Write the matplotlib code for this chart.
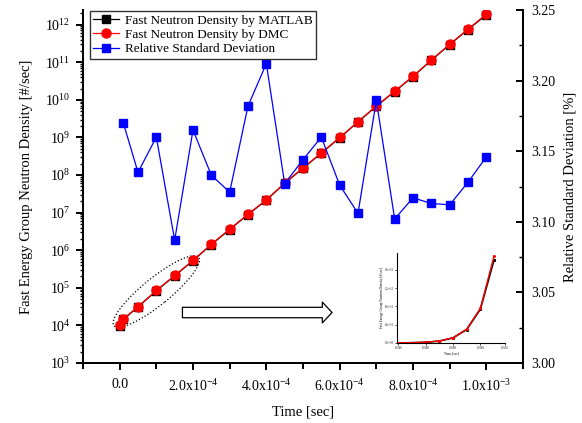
#!/usr/bin/env python3
"""Fast neutron density (MATLAB vs DMC) with relative standard deviation on a twin axis."""
import matplotlib
matplotlib.use("Agg")
import matplotlib.pyplot as plt
import matplotlib.ticker as mticker
from matplotlib.patches import Ellipse, FancyArrowPatch
from matplotlib.transforms import ScaledTranslation
import numpy as np

plt.rcParams["font.family"] = ["Liberation Serif", "DejaVu Serif"]
plt.rcParams["mathtext.fontset"] = "custom"
plt.rcParams["mathtext.rm"] = "Liberation Serif"
plt.rcParams["mathtext.it"] = "Liberation Serif:italic"
plt.rcParams["mathtext.default"] = "regular"

# time points [sec]
time = [0.0, 1e-5, 5e-5, 1e-4, 1.5e-4, 2e-4, 2.5e-4, 3e-4, 3.5e-4, 4e-4, 4.5e-4,
        5e-4, 5.5e-4, 6e-4, 6.5e-4, 7e-4, 7.5e-4, 8e-4, 8.5e-4, 9e-4, 9.5e-4, 1e-3]
# log10 of density
log_dmc = [4.00, 4.17, 4.50, 4.93, 5.33, 5.73, 6.16, 6.56, 6.96, 7.34, 7.79,
           8.19, 8.59, 9.00, 9.42, 9.84, 10.23, 10.63, 11.06, 11.48, 11.88, 12.28]
log_matlab = [3.98, 4.16, 4.49, 4.92, 5.32, 5.72, 6.15, 6.55, 6.95, 7.33, 7.78,
              8.18, 8.58, 8.99, 9.41, 9.83, 10.22, 10.62, 11.05, 11.47, 11.87, 12.26]
dmc = [10 ** v for v in log_dmc]
matlab = [10 ** v for v in log_matlab]

# relative standard deviation [%] (starts at 1e-5)
rsd_time = time[1:]
rsd = [3.170, 3.135, 3.160, 3.087, 3.165, 3.133, 3.121, 3.182, 3.212, 3.127,
       3.144, 3.160, 3.126, 3.106, 3.186, 3.102, 3.117, 3.113, 3.112, 3.128, 3.146]

x_ticks = [0.0, 2e-4, 4e-4, 6e-4, 8e-4, 1e-3]
x_labels = ["0.0", r"$2.0x10^{-4}$", r"$4.0x10^{-4}$", r"$6.0x10^{-4}$",
            r"$8.0x10^{-4}$", r"$1.0x10^{-3}$"]

LW_SPINE = 1.4

fig = plt.figure(figsize=(5.82, 4.23), dpi=100)
ax = fig.add_axes([83 / 582, 1 - 363 / 423, 440 / 582, 353 / 423])
ax2 = ax.twinx()

l1, = ax.plot(time, matlab, color="black", marker="s", markersize=5.5, linewidth=0.9,
              label="Fast Neutron Density by MATLAB", zorder=3)
l2, = ax.plot(time, dmc, color="red", marker="o", markersize=6.5, linewidth=0.9,
              label="Fast Neutron Density by DMC", zorder=4)
l3, = ax2.plot(rsd_time, rsd, color="blue", marker="s", markersize=5.5, linewidth=0.9,
               label="Relative Standard Deviation", zorder=3)

ax.set_yscale("log")
ax.set_ylim(1e3, 10 ** 12.39)
ax.set_xlim(-1e-4, 1.1e-3)
ax2.set_ylim(3.0, 3.25)

ax.set_xticks(x_ticks)
ax.set_xticklabels(x_labels)
ax.xaxis.set_minor_locator(mticker.MultipleLocator(1e-4))
ax.yaxis.set_major_locator(mticker.LogLocator(base=10, numticks=15))
ax.yaxis.set_minor_locator(mticker.LogLocator(base=10, subs=np.arange(2, 10), numticks=15))
ax.yaxis.set_minor_formatter(mticker.NullFormatter())

ax2.yaxis.set_major_locator(mticker.MultipleLocator(0.05))
ax2.yaxis.set_minor_locator(mticker.MultipleLocator(0.025))
ax2.yaxis.set_major_formatter(mticker.FormatStrFormatter("%.2f"))

for a in (ax, ax2):
    a.spines["top"].set_visible(False)
    for s in ("left", "right", "bottom"):
        a.spines[s].set_linewidth(LW_SPINE)

ax.tick_params(axis="both", which="major", direction="out", length=5, width=LW_SPINE,
               labelsize=10, pad=4)
ax.tick_params(axis="both", which="minor", direction="out", length=2.5, width=1.0)
ax.tick_params(axis="x", which="minor", length=4, width=LW_SPINE)
ax.tick_params(axis="x", which="major", pad=6)
ax2.tick_params(axis="y", which="major", direction="in", length=5, width=LW_SPINE,
                labelsize=10, pad=6)
ax2.tick_params(axis="y", which="minor", direction="in", length=3, width=1.0)

ax.set_xlabel("Time [sec]", fontsize=10.5, labelpad=8)
ax.set_ylabel("Fast Energy Group Neutron Density [#/sec]", fontsize=10.5, labelpad=9)
ax2.set_ylabel("Relative Standard Deviation [%]", fontsize=10.5, labelpad=6)

leg = ax2.legend(handles=[l1, l2, l3], loc="upper left", bbox_to_anchor=(0.012, 1.0),
                 fontsize=9.5, frameon=True, fancybox=False, handlelength=2.0,
                 borderpad=0.25, labelspacing=0.15, handletextpad=0.4, borderaxespad=0.1)
leg.get_frame().set_edgecolor("black")
leg.get_frame().set_linewidth(1.0)

# dotted ellipse around the early points
ell = Ellipse((0, 0), 1.09, 0.27, angle=39, fill=False, linestyle=":", linewidth=0.9,
              edgecolor="black",
              transform=fig.dpi_scale_trans + ScaledTranslation(1e-4, 8e4, ax.transData))
ax.add_patch(ell)

# hollow arrow pointing to the inset
arrow = FancyArrowPatch((0.226, 0.143), (0.566, 0.143), transform=ax.transAxes,
                        arrowstyle="simple,head_length=7,head_width=15,tail_width=7.5",
                        mutation_scale=1, facecolor="white", edgecolor="black",
                        linewidth=0.9, shrinkA=0, shrinkB=0)
ax.add_patch(arrow)

# inset: linear view of the last points
ins = fig.add_axes([397 / 582, 1 - 343 / 423, 108 / 582, 90 / 423])
ins.plot(time, matlab, color="black", linewidth=1.2, marker="s", markersize=1.2)
ins.plot(time, dmc, color="red", linewidth=1.0, marker="o", markersize=1.2)
ins.set_xlim(6.45e-4, 1.04e-3)
ins.set_ylim(0, 1.97e12)
ins.set_xticks([6.5e-4, 7.5e-4, 8.5e-4, 9.5e-4, 1.04e-3])
ins.set_yticks([0, 4e11, 8e11, 1.2e12, 1.6e12])
ins.xaxis.set_major_formatter(mticker.FormatStrFormatter("%.4f"))
ins.yaxis.set_major_formatter(mticker.FuncFormatter(lambda v, p: f"{v:.1e}"))
ins.spines["top"].set_visible(False)
ins.spines["right"].set_visible(False)
for s in ("left", "bottom"):
    ins.spines[s].set_linewidth(0.8)
ins.tick_params(labelsize=2, length=1.2, width=0.5, pad=1)
ins.set_xlabel("Time [sec]", fontsize=2.5, labelpad=1)
ins.set_ylabel("Fast Energy Group Neutron Density [#/sec]", fontsize=2.5, labelpad=1)
ins.patch.set_alpha(0)

fig.savefig("out.png", dpi=100)
